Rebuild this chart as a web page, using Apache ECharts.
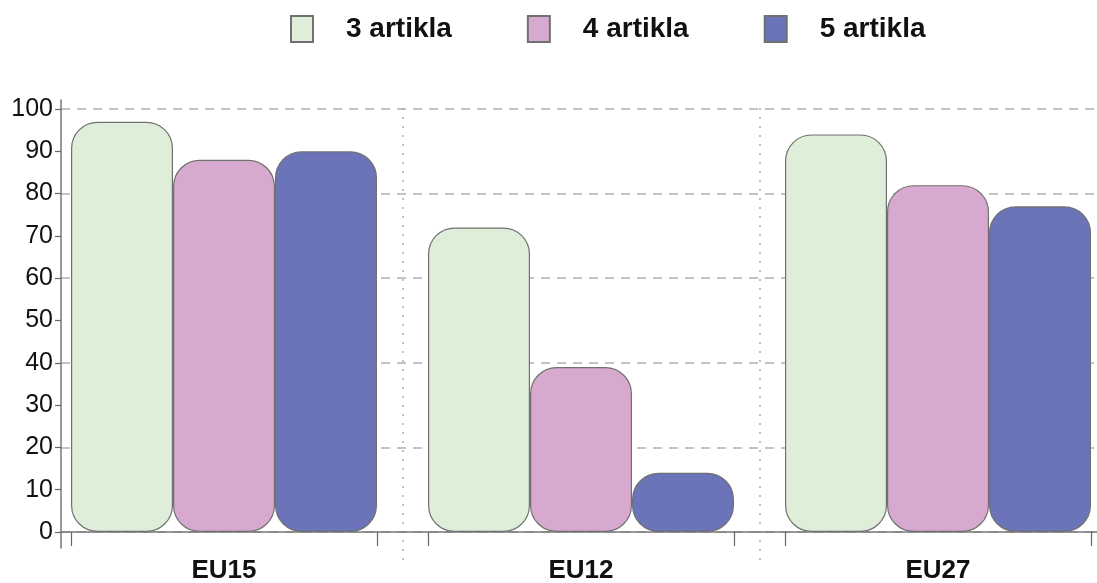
<!DOCTYPE html>
<html>
<head>
<meta charset="utf-8">
<script src="https://cdn.jsdelivr.net/npm/echarts@6/dist/echarts.min.js"></script>
<style>html,body{margin:0;padding:0;background:#fff}#c{width:1097px;height:583px}</style>
</head>
<body>
<div id="c"></div>
<script>
const categories = ['EU15', 'EU12', 'EU27'];
const seriesNames = ['3 artikla', '4 artikla', '5 artikla'];
const s3 = [97, 72, 94];
const s4 = [88, 39, 82];
const s5 = [90, 14, 77];
const yTicks = [0, 10, 20, 30, 40, 50, 60, 70, 80, 90, 100];

const colors = ['#dfeed8', '#d8a9cf', '#6b74b8'];
const chart = echarts.init(document.getElementById('c'));
const FONT = 'Liberation Sans, Arial, sans-serif';
const tickSlots = Array.from({length: 42}, () => '');
const tickAt = [1, 13, 15, 27, 29, 41];

function bar(name, data, i) {
  return {
    name, type: 'bar', data, xAxisIndex: 0, yAxisIndex: 0,
    barWidth: 102, barGap: '0%',
    itemStyle: { color: colors[i], borderColor: '#707070', borderWidth: 1.2, borderRadius: 26 },
    emphasis: { disabled: true }
  };
}
const G = { outerBoundsMode: 'none', containLabel: false };

chart.setOption({
  animation: false,
  legend: {
    top: 10, left: 285,
    itemWidth: 22, itemHeight: 26, itemGap: 75,
    icon: 'rect',
    textStyle: { fontFamily: FONT, fontSize: 28, fontWeight: 'bold', color: '#111', padding: [0, 0, 0, 28] },
    data: seriesNames
  },
  grid: [
    Object.assign({ left: 45.5, width: 1071, top: 109, bottom: 51 }, G),
    Object.assign({ left: 61, right: 0, top: 100, bottom: 35 }, G),
    Object.assign({ left: 61, right: 0, top: 109, bottom: 51 }, G),
    Object.assign({ left: 45.5, width: 1071, top: 108, bottom: 23 }, G)
  ],
  xAxis: [
    { type: 'category', gridIndex: 0, data: categories,
      axisLine: { show: false }, axisTick: { show: false }, splitLine: { show: false },
      axisLabel: { fontFamily: FONT, fontSize: 26, fontWeight: 'bold', color: '#111', margin: 26 } },
    { type: 'category', gridIndex: 0, data: tickSlots, position: 'bottom',
      axisLine: { show: false }, axisLabel: { show: false },
      axisTick: { show: true, length: 14, lineStyle: { color: '#666', width: 1.2 },
        interval: (i) => tickAt.includes(i) } },
    { type: 'value', gridIndex: 1, min: 0, max: 1,
      axisLine: { show: true, onZero: true, lineStyle: { color: '#777', width: 1.5 } },
      axisTick: { show: false }, axisLabel: { show: false }, splitLine: { show: false } },
    { type: 'value', gridIndex: 2, show: false },
    { type: 'category', gridIndex: 3, data: categories,
      axisLine: { show: false }, axisTick: { show: false }, axisLabel: { show: false },
      splitLine: { show: true, interval: (i) => i > 0, lineStyle: { color: '#aaa', type: [2, 7], width: 1.5 } } }
  ],
  yAxis: [
    { type: 'value', gridIndex: 0, min: 0, max: 100, interval: 10, offset: -15.5,
      axisLine: { show: false },
      axisTick: { show: true, length: 6, lineStyle: { color: '#666', width: 1.2 } },
      axisLabel: { fontFamily: FONT, fontSize: 25, color: '#111', margin: 8,
        customValues: yTicks },
      splitLine: { show: false } },
    { type: 'value', gridIndex: 1, min: -3.8, max: 102.1,
      axisLine: { show: true, lineStyle: { color: '#777', width: 1.5 } },
      axisTick: { show: false }, axisLabel: { show: false }, splitLine: { show: false } },
    { type: 'value', gridIndex: 2, min: 0, max: 100, interval: 20,
      axisLine: { show: false }, axisTick: { show: false }, axisLabel: { show: false },
      splitLine: { show: true, lineStyle: { color: '#b0b0b0', type: [9, 7], width: 1.5 } } },
    { type: 'value', gridIndex: 3, show: false }
  ],
  series: [bar(seriesNames[0], s3, 0), bar(seriesNames[1], s4, 1), bar(seriesNames[2], s5, 2)]
});
</script>
</body>
</html>
